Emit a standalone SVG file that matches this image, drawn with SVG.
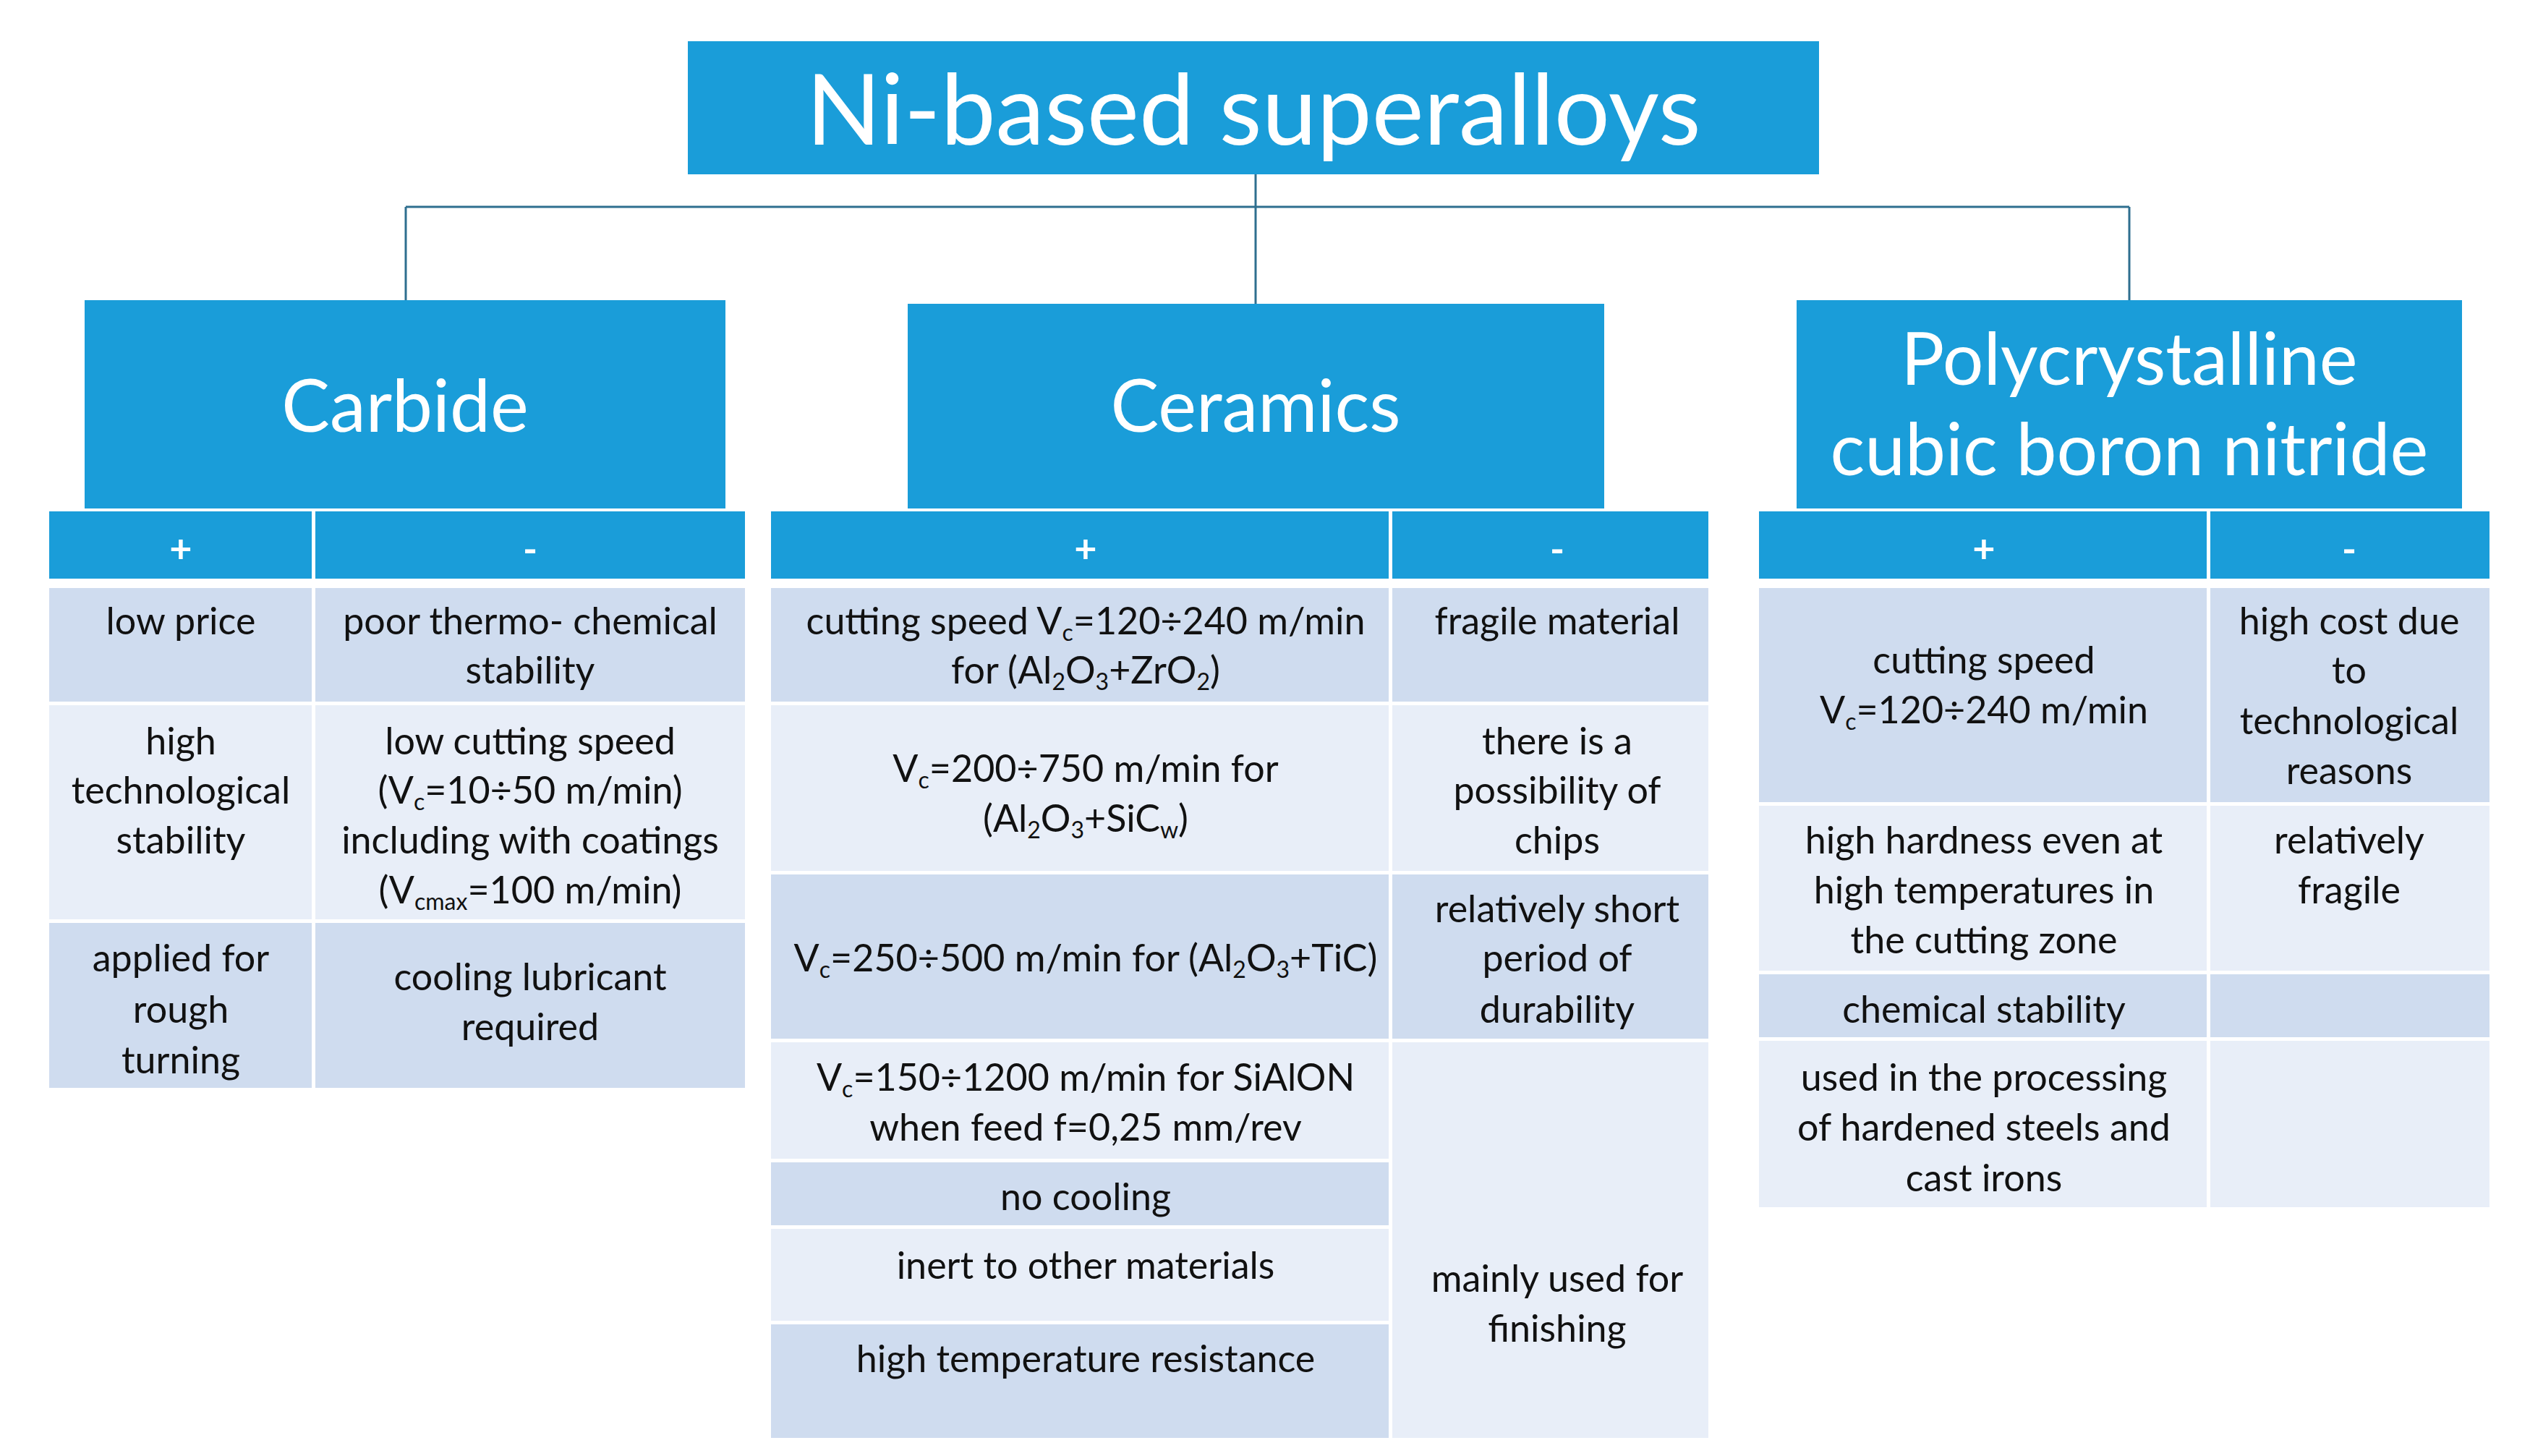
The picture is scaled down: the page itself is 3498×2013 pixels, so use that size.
<svg xmlns="http://www.w3.org/2000/svg" width="3498" height="2013" viewBox="0 0 3498 2013">
<style>
.b{fill:#1a9dd9}
.d{fill:#cfdcef}
.l{fill:#e8eef8}
.t{font-family:Lato,"Open Sans","Liberation Sans",sans-serif;text-anchor:middle}
.w{fill:#fff}
.k{fill:#111;font-size:52px}
.h{fill:#fff;font-size:54px;font-weight:bold}
.s{font-size:32px}
.c{stroke:#2f6f8f;stroke-width:3;fill:none}
</style>
<rect width="3498" height="2013" fill="#fff"/>
<g id="connectors">
<path class="c" d="M1736 241V286M561 286H2944M561 286V415M1736 286V420M2944 286V415"/>
</g>
<g id="title">
<rect class="b" x="951" y="57" width="1564" height="184"/>
<text class="t w" x="1733" y="200" font-size="136">Ni-based superalloys</text>
</g>
<g id="carbide">
<rect class="b" x="117" y="415" width="886" height="288"/>
<text class="t w" x="560" y="597" font-size="100">Carbide</text>
</g>
<g id="ceramics">
<rect class="b" x="1255" y="420" width="963" height="283"/>
<text class="t w" x="1736" y="597" font-size="100">Ceramics</text>
</g>
<g id="pcbn">
<rect class="b" x="2484" y="415" width="920" height="288"/>
<text class="t w" x="2944" y="532" font-size="100">Polycrystalline</text>
<text class="t w" x="2944" y="657" font-size="100">cubic boron nitride</text>
</g>
<g id="carbide-table">
<rect class="b" x="68" y="707" width="363" height="93"/><rect class="b" x="436" y="707" width="594" height="93"/>
<text class="t h" x="250" y="778">+</text><text class="t h" x="733" y="778">-</text>
<rect class="d" x="68" y="813" width="363" height="157"/><rect class="d" x="436" y="813" width="594" height="157"/>
<rect class="l" x="68" y="975" width="363" height="296"/><rect class="l" x="436" y="975" width="594" height="296"/>
<rect class="d" x="68" y="1276" width="363" height="228"/><rect class="d" x="436" y="1276" width="594" height="228"/>
<g class="t k">
<text x="250" y="877">low price</text>
<text x="733" y="877">poor thermo- chemical</text><text x="733" y="945">stability</text>
<text x="250" y="1043">high</text><text x="250" y="1111">technological</text><text x="250" y="1180">stability</text>
<text x="733" y="1043">low cutting speed</text>
<text x="733" y="1111">(V<tspan class="s" baseline-shift="-9">c</tspan>=10÷50 m/min)</text>
<text x="733" y="1180">including with coatings</text>
<text x="733" y="1249">(V<tspan class="s" baseline-shift="-9">cmax</tspan>=100 m/min)</text>
<text x="250" y="1343">applied for</text><text x="250" y="1414">rough</text><text x="250" y="1484">turning</text>
<text x="733" y="1369">cooling lubricant</text><text x="733" y="1438">required</text>
</g>
</g>
<g id="ceramics-table">
<rect class="b" x="1066" y="707" width="854" height="93"/><rect class="b" x="1925" y="707" width="437" height="93"/>
<text class="t h" x="1501" y="778">+</text><text class="t h" x="2153" y="778">-</text>
<rect class="d" x="1066" y="813" width="854" height="157"/><rect class="d" x="1925" y="813" width="437" height="157"/>
<rect class="l" x="1066" y="975" width="854" height="229"/><rect class="l" x="1925" y="975" width="437" height="229"/>
<rect class="d" x="1066" y="1209" width="854" height="227"/><rect class="d" x="1925" y="1209" width="437" height="227"/>
<rect class="l" x="1066" y="1441" width="854" height="161"/>
<rect class="d" x="1066" y="1607" width="854" height="87"/>
<rect class="l" x="1066" y="1699" width="854" height="127"/>
<rect class="d" x="1066" y="1831" width="854" height="157"/>
<rect class="l" x="1925" y="1441" width="437" height="547"/>
<g class="t k">
<text x="1501" y="877">cutting speed V<tspan class="s" baseline-shift="-9">c</tspan>=120÷240 m/min</text>
<text x="1501" y="945">for (Al<tspan class="s" baseline-shift="-9">2</tspan>O<tspan class="s" baseline-shift="-9">3</tspan>+ZrO<tspan class="s" baseline-shift="-9">2</tspan>)</text>
<text x="2153" y="877">fragile material</text>
<text x="1501" y="1081">V<tspan class="s" baseline-shift="-9">c</tspan>=200÷750 m/min for</text>
<text x="1501" y="1150">(Al<tspan class="s" baseline-shift="-9">2</tspan>O<tspan class="s" baseline-shift="-9">3</tspan>+SiC<tspan class="s" baseline-shift="-9">w</tspan>)</text>
<text x="2153" y="1043">there is a</text><text x="2153" y="1111">possibility of</text><text x="2153" y="1180">chips</text>
<text x="1501" y="1343">V<tspan class="s" baseline-shift="-9">c</tspan>=250÷500 m/min for (Al<tspan class="s" baseline-shift="-9">2</tspan>O<tspan class="s" baseline-shift="-9">3</tspan>+TiC)</text>
<text x="2153" y="1275">relatively short</text><text x="2153" y="1343">period of</text><text x="2153" y="1414">durability</text>
<text x="1501" y="1508">V<tspan class="s" baseline-shift="-9">c</tspan>=150÷1200 m/min for SiAlON</text>
<text x="1501" y="1577">when feed f=0,25 mm/rev</text>
<text x="1501" y="1673">no cooling</text>
<text x="1501" y="1768">inert to other materials</text>
<text x="1501" y="1897">high temperature resistance</text>
<text x="2153" y="1786">mainly used for</text><text x="2153" y="1855">finishing</text>
</g>
</g>
<g id="pcbn-table">
<rect class="b" x="2432" y="707" width="619" height="93"/><rect class="b" x="3056" y="707" width="386" height="93"/>
<text class="t h" x="2743" y="778">+</text><text class="t h" x="3248" y="778">-</text>
<rect class="d" x="2432" y="813" width="619" height="296"/><rect class="d" x="3056" y="813" width="386" height="296"/>
<rect class="l" x="2432" y="1114" width="619" height="228"/><rect class="l" x="3056" y="1114" width="386" height="228"/>
<rect class="d" x="2432" y="1347" width="619" height="87"/><rect class="d" x="3056" y="1347" width="386" height="87"/>
<rect class="l" x="2432" y="1439" width="619" height="230"/><rect class="l" x="3056" y="1439" width="386" height="230"/>
<g class="t k">
<text x="2743" y="931">cutting speed</text>
<text x="2743" y="1000">V<tspan class="s" baseline-shift="-9">c</tspan>=120÷240 m/min</text>
<text x="3248" y="877">high cost due</text><text x="3248" y="945">to</text><text x="3248" y="1015">technological</text><text x="3248" y="1084">reasons</text>
<text x="2743" y="1180">high hardness even at</text><text x="2743" y="1249">high temperatures in</text><text x="2743" y="1318">the cutting zone</text>
<text x="3248" y="1180">relatively</text><text x="3248" y="1249">fragile</text>
<text x="2743" y="1414">chemical stability</text>
<text x="2743" y="1508">used in the processing</text><text x="2743" y="1577">of hardened steels and</text><text x="2743" y="1647">cast irons</text>
</g>
</g>
</svg>
